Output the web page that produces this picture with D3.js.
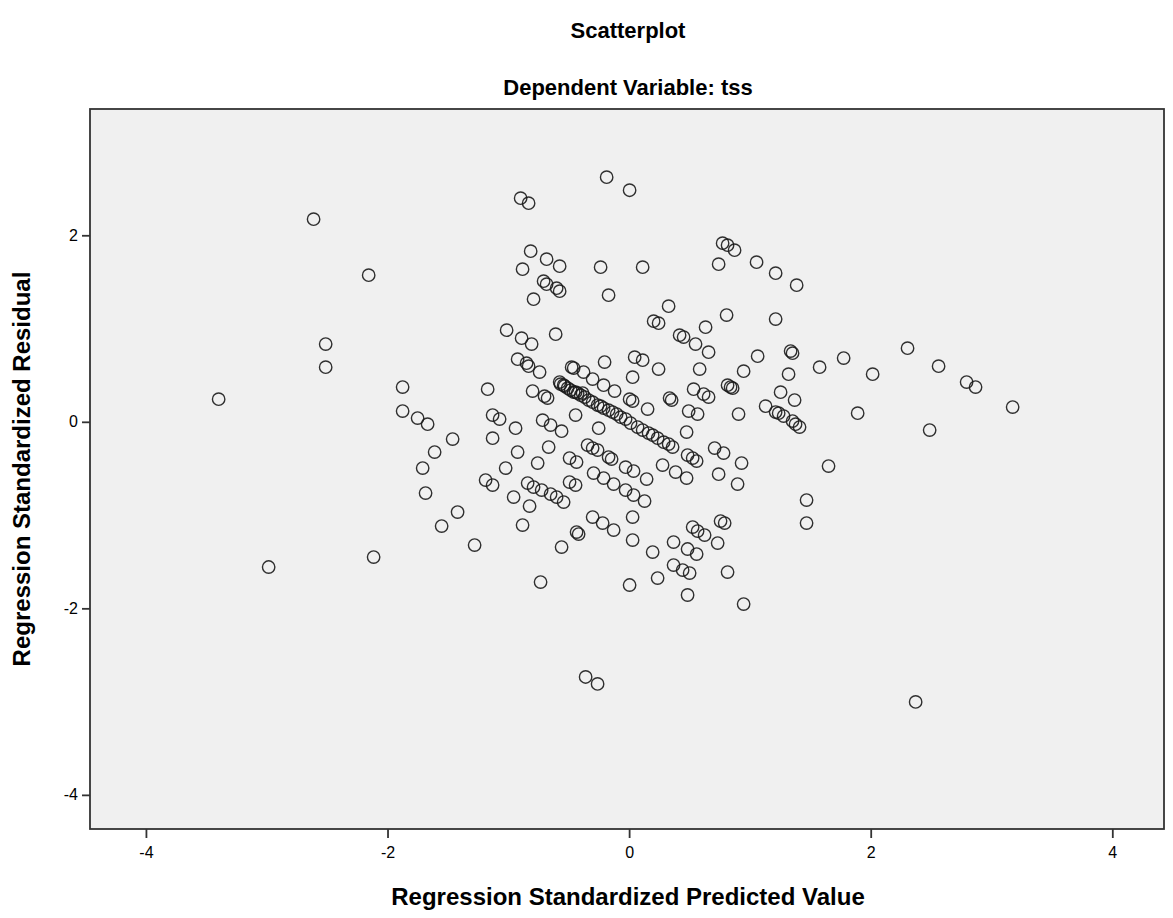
<!DOCTYPE html>
<html>
<head>
<meta charset="utf-8">
<script src="https://cdn.jsdelivr.net/npm/d3@7"></script>
<style>
  html, body { margin: 0; padding: 0; background: #ffffff; }
  svg { display: block; }
</style>
</head>
<body>
<div id="chart"></div>
<script>
// ---- Data ----
const chartTitle = "Scatterplot";
const chartSubtitle = "Dependent Variable: tss";
const xAxisTitle = "Regression Standardized Predicted Value";
const yAxisTitle = "Regression Standardized Residual";
const xTicks = [-4, -2, 0, 2, 4];
const yTicks = [2, 0, -2, -4];

// predicted values (x)
const predicted = [
  -2.612,-2.156,-2.512,-2.512,-3.398,-2.984,-2.115,-1.875,-1.875,-1.751,-1.668,-1.461,-1.610,-1.709,-1.685,-1.420,-1.552,-1.279,
  -0.186,0.004,-0.898,-0.832,-0.815,-0.683,-0.575,-0.882,-0.236,0.112,-0.708,-0.683,-0.600,-0.575,-0.791,-0.170,
  0.774,0.815,0.873,0.741,1.055,1.213,1.387,0.327,0.203,0.244,0.807,0.633,1.213,0.418,0.451,0.550,0.658,1.064,1.337,1.353,
  0.948,1.320,0.046,0.112,0.244,0.584,0.029,
  -1.014,-0.890,-0.807,-0.608,-0.923,-0.849,-0.832,-0.741,-0.476,-0.459,-0.377,-0.302,-0.203,-0.211,-0.120,-0.575,-0.542,
  -0.484,-0.443,-0.385,-1.171,-0.799,-0.700,-0.675,
  0.534,0.617,0.658,0.815,0.840,0.857,1.254,1.370,0.335,0.352,0.004,0.029,0.153,1.130,1.213,1.238,1.279,1.353,1.378,1.411,
  0.493,0.567,0.906,
  1.577,1.776,2.305,2.016,2.562,2.794,2.868,3.175,1.892,2.488,1.651,1.469,1.469,2.372,
  -0.567,-0.534,-0.509,-0.459,-0.426,-0.401,-0.368,-0.335,-0.302,-0.261,-0.236,-0.211,-0.170,-0.137,-0.103,-0.070,-0.029,
  0.012,0.070,0.112,0.161,0.195,0.236,0.286,0.327,0.360,
  -1.130,-1.072,-0.940,-1.130,-0.716,-0.650,-0.559,-0.443,-0.252,0.476,-0.923,-0.666,-1.022,-0.757,-0.493,-0.435,-0.344,
  -0.302,-0.261,-0.170,-0.145,-0.029,0.037,0.145,0.277,0.385,0.476,0.484,0.526,0.559,0.708,0.782,0.931,0.741,0.898,
  -1.188,-1.130,-0.956,-0.824,-0.840,-0.791,-0.724,-0.650,-0.600,-0.542,-0.493,-0.443,-0.294,-0.211,-0.128,-0.029,0.037,
  0.128,-0.882,-0.559,-0.435,-0.418,-0.302,-0.219,-0.128,0.029,0.029,0.195,0.368,0.484,0.559,0.526,0.567,0.625,0.733,
  0.757,0.791,0.368,0.443,0.501,0.815,0.236,0.004,0.484,0.948,-0.733,-0.360,-0.261
];

// residuals (y)
const residual = [
  2.173,1.572,0.833,0.586,0.243,-1.557,-1.450,0.372,0.115,0.040,-0.025,-0.185,-0.325,-0.496,-0.764,-0.968,-1.118,-1.322,
  2.623,2.483,2.398,2.344,1.830,1.744,1.669,1.637,1.658,1.658,1.508,1.476,1.433,1.401,1.315,1.358,
  1.915,1.894,1.840,1.690,1.712,1.594,1.465,1.240,1.079,1.058,1.144,1.015,1.101,0.929,0.908,0.833,0.747,0.704,0.758,0.736,
  0.543,0.511,0.693,0.661,0.565,0.565,0.479,
  0.983,0.897,0.833,0.940,0.672,0.629,0.597,0.533,0.586,0.576,0.533,0.458,0.640,0.393,0.329,0.426,0.393,
  0.340,0.318,0.308,0.350,0.329,0.275,0.254,
  0.350,0.297,0.265,0.393,0.372,0.361,0.318,0.233,0.254,0.233,0.243,0.222,0.136,0.168,0.104,0.093,0.061,0.008,-0.025,-0.057,
  0.115,0.083,0.083,
  0.586,0.683,0.790,0.511,0.597,0.426,0.372,0.158,0.093,-0.089,-0.475,-0.839,-1.086,-3.004,
  0.404,0.383,0.361,0.318,0.308,0.286,0.265,0.233,0.211,0.179,0.168,0.147,0.125,0.104,0.083,0.050,0.029,
  -0.014,-0.057,-0.089,-0.121,-0.143,-0.175,-0.218,-0.239,-0.271,
  0.072,0.029,-0.068,-0.175,0.018,-0.035,-0.100,0.072,-0.068,-0.110,-0.325,-0.271,-0.496,-0.443,-0.389,-0.432,-0.250,
  -0.282,-0.303,-0.378,-0.400,-0.486,-0.528,-0.614,-0.464,-0.539,-0.603,-0.357,-0.389,-0.421,-0.282,-0.335,-0.443,-0.561,-0.668,
  -0.625,-0.678,-0.807,-0.904,-0.657,-0.700,-0.732,-0.775,-0.807,-0.861,-0.646,-0.678,-0.550,-0.603,-0.668,-0.732,-0.786,
  -0.850,-1.107,-1.343,-1.182,-1.204,-1.021,-1.086,-1.161,-1.021,-1.268,-1.397,-1.289,-1.364,-1.418,-1.129,-1.172,-1.214,-1.300,
  -1.064,-1.086,-1.536,-1.590,-1.622,-1.611,-1.675,-1.750,-1.857,-1.954,-1.718,-2.736,-2.811
];

// ---- Layout ----
const W = 1173, H = 918;
const plot = { left: 90, top: 109, right: 1164, bottom: 829 };

const svg = d3.select("#chart").append("svg")
  .attr("width", W).attr("height", H)
  .style("font-family", "Arial, 'Liberation Sans', sans-serif");

const x = d3.scaleLinear().domain([-4.463, 4.428]).range([plot.left, plot.right]);
const y = d3.scaleLinear().domain([-4.366, 3.354]).range([plot.bottom, plot.top]);

// plot background
svg.append("rect")
  .attr("x", plot.left).attr("y", plot.top)
  .attr("width", plot.right - plot.left).attr("height", plot.bottom - plot.top)
  .attr("fill", "#f0f0f0")
  .attr("stroke", "#333333").attr("stroke-width", 1.8);

// axes (SPSS uses a plain hyphen for negatives)
const fmt = d => String(d);
const xAxis = d3.axisBottom(x).tickValues(xTicks).tickSize(9).tickPadding(9).tickFormat(fmt);
const yAxis = d3.axisLeft(y).tickValues(yTicks).tickSize(8).tickPadding(4).tickFormat(fmt);

const gx = svg.append("g").attr("transform", `translate(0,${plot.bottom})`).call(xAxis);
const gy = svg.append("g").attr("transform", `translate(${plot.left},0)`).call(yAxis);
[gx, gy].forEach(g => {
  g.select(".domain").remove();
  g.selectAll(".tick line").attr("stroke", "#333333").attr("stroke-width", 1.8);
  g.selectAll(".tick text").attr("fill", "#000").style("font-size", "16px")
    .style("font-family", "Arial, 'Liberation Sans', sans-serif");
});

// points
const pts = predicted.map((v, i) => ({ px: v, py: residual[i] }));
svg.append("g").selectAll("circle").data(pts).enter().append("circle")
  .attr("cx", d => x(d.px)).attr("cy", d => y(d.py))
  .attr("r", 6.2)
  .attr("fill", "none")
  .attr("stroke", "#1a1a1a").attr("stroke-width", 1.4)
  .attr("stroke-opacity", 0.9);

// titles
svg.append("text").attr("x", 628).attr("y", 38).attr("text-anchor", "middle")
  .style("font-size", "22px").style("font-weight", "bold").text(chartTitle);
svg.append("text").attr("x", 628).attr("y", 95).attr("text-anchor", "middle")
  .style("font-size", "22px").style("font-weight", "bold").text(chartSubtitle);
svg.append("text").attr("x", 628).attr("y", 905).attr("text-anchor", "middle")
  .style("font-size", "24px").style("font-weight", "bold").text(xAxisTitle);
svg.append("text").attr("transform", `translate(30,${(plot.top + plot.bottom) / 2}) rotate(-90)`)
  .attr("text-anchor", "middle")
  .style("font-size", "24px").style("font-weight", "bold").text(yAxisTitle);
</script>
</body>
</html>
